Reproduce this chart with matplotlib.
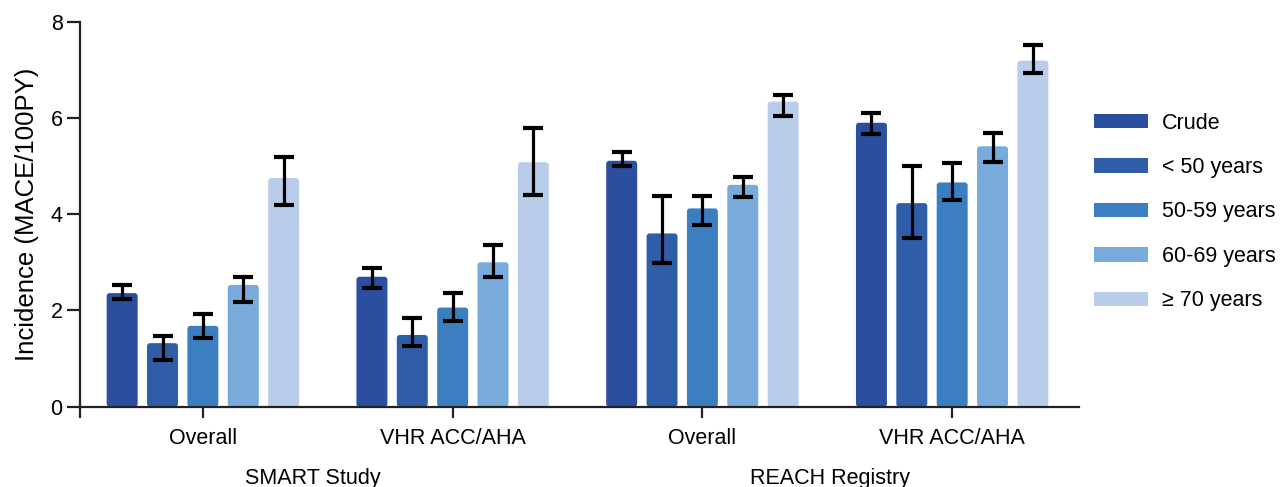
import matplotlib
matplotlib.use("Agg")
import matplotlib.pyplot as plt
from matplotlib.patches import Patch, FancyBboxPatch
import numpy as np

plt.rcParams['font.family'] = ['Liberation Sans', 'DejaVu Sans']

groups = ["Overall", "VHR ACC/AHA", "Overall", "VHR ACC/AHA"]
studies = ["SMART Study", "REACH Registry"]
series = ["Crude", "< 50 years", "50-59 years", "60-69 years", "\u2265 70 years"]
colors = ["#2B4E9F", "#2F5DA8", "#3C7FC0", "#78AADC", "#B9CDEB"]

# incidence per series, one value per group
crude = [2.36, 2.70, 5.11, 5.90]
age_lt50 = [1.32, 1.49, 3.60, 4.23]
age_50_59 = [1.68, 2.06, 4.12, 4.66]
age_60_69 = [2.53, 3.00, 4.61, 5.41]
age_ge70 = [4.75, 5.08, 6.34, 7.19]

# 95% CI bounds
crude_lo = [2.24, 2.46, 5.01, 5.66]
crude_hi = [2.53, 2.89, 5.29, 6.10]
lt50_lo = [0.97, 1.26, 2.98, 3.51]
lt50_hi = [1.47, 1.85, 4.37, 5.00]
a50_lo = [1.42, 1.78, 3.78, 4.30]
a50_hi = [1.93, 2.37, 4.37, 5.06]
a60_lo = [2.18, 2.69, 4.35, 5.08]
a60_hi = [2.69, 3.36, 4.78, 5.68]
ge70_lo = [4.19, 4.40, 6.05, 6.94]
ge70_hi = [5.18, 5.80, 6.48, 7.52]

values = [crude, age_lt50, age_50_59, age_60_69, age_ge70]
lows = [crude_lo, lt50_lo, a50_lo, a60_lo, ge70_lo]
highs = [crude_hi, lt50_hi, a50_hi, a60_hi, ge70_hi]

fig = plt.figure(figsize=(12.82, 4.87), dpi=100)
ax = fig.add_axes([0.0624, 0.1649, 0.7793, 0.7906])

x = np.arange(len(groups))
pitch = 0.1616
width = 0.124
xmin, xmax = -0.492, 3.508

for i, (vals, lo, hi, col) in enumerate(zip(values, lows, highs, colors)):
    pos = x + (i - 2) * pitch
    bars = ax.bar(pos, vals, width, color=col, zorder=2)
    # swap plain rectangles for slightly rounded ones
    for b in bars:
        b.set_visible(False)
        rb = FancyBboxPatch((b.get_x(), b.get_y()), b.get_width(), b.get_height(),
                            boxstyle="round,pad=0,rounding_size=0.012",
                            mutation_aspect=5.2, facecolor=col, edgecolor="none",
                            zorder=2)
        ax.add_patch(rb)
    vals = np.array(vals)
    err = [vals - np.array(lo), np.array(hi) - vals]
    ax.errorbar(pos, vals, yerr=err, fmt="none", ecolor="black",
                elinewidth=2.3, capsize=7, capthick=3, zorder=3)

ax.set_xlim(xmin, xmax)
ax.set_ylim(0, 8)
ax.set_yticks([0, 2, 4, 6, 8])
ax.set_xticks([xmin] + list(x))
ax.set_xticklabels([""] + groups)

for s in ["top", "right"]:
    ax.spines[s].set_visible(False)
for s in ["left", "bottom"]:
    ax.spines[s].set_linewidth(1.6)
    ax.spines[s].set_color("#222222")

ax.tick_params(axis="y", length=9.5, width=1.6, color="#222222", labelsize=15.5, pad=3)
ax.tick_params(axis="x", length=8, width=1.6, color="#222222", labelsize=15.5, pad=7)
ax.set_ylabel("Incidence (MACE/100PY)", fontsize=18.5, labelpad=8)

# study labels under the group pairs
ax.text(0.44, -0.201, studies[0], transform=ax.get_xaxis_transform(),
        ha="center", va="baseline", fontsize=15.5)
ax.text(2.51, -0.201, studies[1], transform=ax.get_xaxis_transform(),
        ha="center", va="baseline", fontsize=15.5)

handles = [Patch(facecolor=c, edgecolor="none") for c in colors]
fig.legend(handles, series, loc="center left", bbox_to_anchor=(1094 / 1282, 0.5647),
           frameon=False, fontsize=15.5, handlelength=2.5, handleheight=0.67,
           handletextpad=0.65, labelspacing=1.09, borderpad=0, borderaxespad=0)

fig.savefig("out.png", dpi=100)
